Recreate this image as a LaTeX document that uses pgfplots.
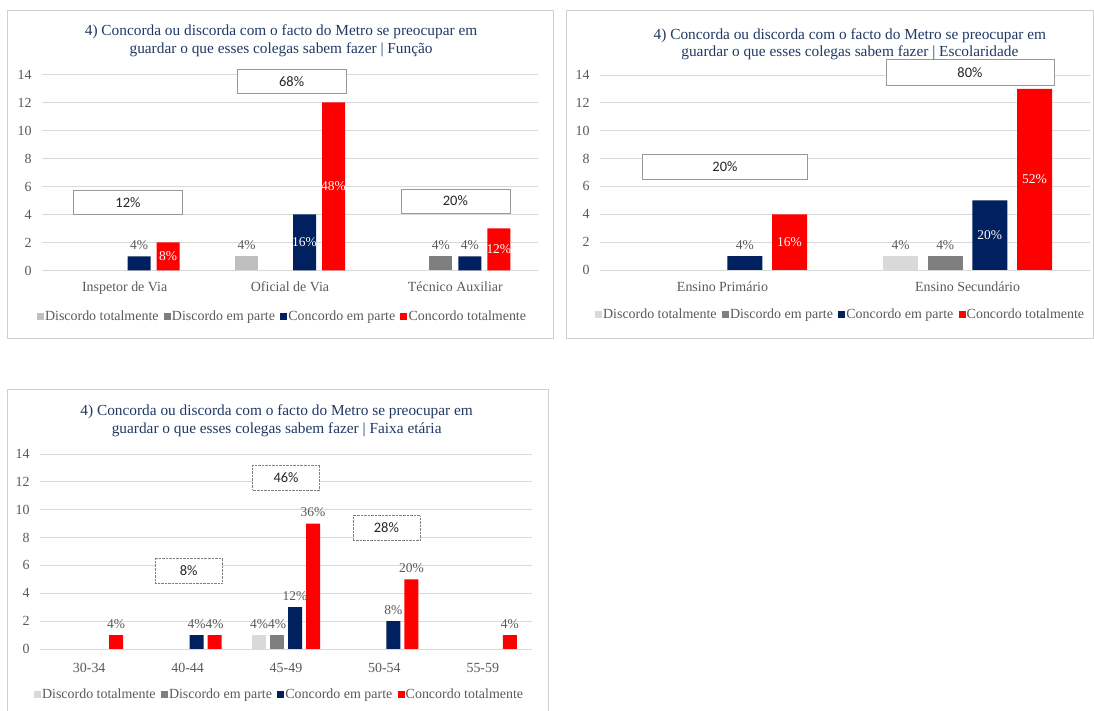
\documentclass[border=0pt]{standalone}
\usepackage{fontspec}
\setmainfont{Liberation Serif}
\newfontfamily\carlito{Carlito}
\usepackage{pgfplots}
\pgfplotsset{compat=1.18}
\definecolor{lgA}{HTML}{BFBFBF}
\definecolor{lgB}{HTML}{D9D9D9}
\definecolor{mgray}{HTML}{7F7F7F}
\definecolor{navy}{HTML}{002060}
\definecolor{xred}{HTML}{FF0000}
\definecolor{titleblue}{HTML}{1F3864}
\definecolor{tickgray}{HTML}{595959}
\definecolor{gridc}{HTML}{D9D9D9}
\definecolor{panelc}{HTML}{D0D0D0}
\definecolor{boxc}{HTML}{999999}
\definecolor{boxtext}{HTML}{262626}
\tikzset{pbox/.style={draw=boxc, fill=white, font=\carlito\fontsize{14.5}{16}\selectfont, text=boxtext, inner sep=0pt}}
\pgfplotsset{
  panel/.style={
    scale only axis, ybar, clip=false,
    ymin=0, ymax=14, ytick={0,2,...,14},
    axis line style={draw=none}, major tick length=0pt,
    ymajorgrids, grid style={draw=gridc, line width=0.8bp},
    tick label style={font=\fontsize{14}{16}\selectfont, text=tickgray},
    /pgf/number format/assume math mode=true,
    yticklabel style={xshift=-7bp},
    xticklabel style={yshift=-8bp},
    title style={font=\fontsize{15.4}{18}\selectfont, text=titleblue, align=center, anchor=center},
    legend columns=4,
    legend style={draw=none, fill=none, font=\fontsize{14}{15}\selectfont, anchor=center,
      nodes={text=tickgray, inner sep=1.2bp},
      /tikz/every even column/.append style={column sep=4bp}},
    legend image code/.code={\fill[##1] (0bp,-3.5bp) rectangle (7bp,3.5bp);},
  },
  lblabove/.style={forget plot, draw=none, fill=none, point meta=explicit symbolic, nodes near coords,
    every node near coord/.append style={font=\fontsize{13.5}{15}\selectfont, text=tickgray, anchor=south, yshift=3bp}},
  lblin/.style={forget plot, draw=none, fill=none, point meta=explicit symbolic, nodes near coords,
    visualization depends on={y \as \rawy},
    every node near coord/.append style={font=\fontsize{13.5}{15}\selectfont, text=white, anchor=center, shift={(axis direction cs:0,-\rawy/2)}}},
}
\begin{document}
\begin{tikzpicture}[x=1bp,y=1bp]
\useasboundingbox (0,0) rectangle (1094,711);
\draw[panelc, line width=0.8bp] (7.5,372.5) rectangle (553.5,700.5);
\draw[panelc, line width=0.8bp] (566.5,372.5) rectangle (1093,700.5);
\draw[panelc, line width=0.8bp] (7.5,-5) rectangle (548.5,321.5);

% ---------- Panel 1: Função ----------
\begin{axis}[panel, at={(42bp,440.5bp)}, anchor=south west, width=496bp, height=196bp,
  xmin=-0.5, xmax=2.5, xtick={0,1,2},
  xticklabels={Inspetor de Via, Oficial de Via, Técnico Auxiliar},
  title={4) Concorda ou discorda com o facto do Metro se preocupar em\\guardar o que esses colegas sabem fazer | Função},
  title style={at={(0.482,1.14)}},
  legend style={at={(0.484,-0.235)}},
  bar width=23bp]
\addplot[fill=lgA, draw=none, bar shift=-43.5bp] coordinates {(1,1)};
\addplot[fill=mgray, draw=none, bar shift=-14.5bp] coordinates {(2,1)};
\addplot[fill=navy, draw=none, bar shift=14.5bp] coordinates {(0,1) (1,4) (2,1)};
\addplot[fill=xred, draw=none, bar shift=43.5bp] coordinates {(0,2) (1,12) (2,3)};
\legend{Discordo totalmente, Discordo em parte, Concordo em parte, Concordo totalmente}
\addplot[lblabove, bar shift=-43.5bp] coordinates {(1,1) [4\%]};
\addplot[lblabove, bar shift=-14.5bp] coordinates {(2,1) [4\%]};
\addplot[lblabove, bar shift=14.5bp] coordinates {(0,1) [4\%] (2,1) [4\%]};
\addplot[lblin, bar shift=14.5bp] coordinates {(1,4) [16\%]};
\addplot[lblin, bar shift=43.5bp] coordinates {(0,2) [8\%] (1,12) [48\%] (2,3) [12\%]};
\node[pbox, minimum width=109bp, minimum height=24bp] at (axis cs:0.02,4.86) {12\%};
\node[pbox, minimum width=109bp, minimum height=24bp] at (axis cs:1.01,13.5) {68\%};
\node[pbox, minimum width=109bp, minimum height=24bp] at (axis cs:2.0,4.96) {20\%};
\end{axis}

% ---------- Panel 2: Escolaridade ----------
\begin{axis}[panel, at={(600bp,441bp)}, anchor=south west, width=490bp, height=195bp,
  xmin=-0.5, xmax=1.5, xtick={0,1},
  xticklabels={Ensino Primário, Ensino Secundário},
  title={4) Concorda ou discorda com o facto do Metro se preocupar em\\guardar o que esses colegas sabem fazer | Escolaridade},
  title style={at={(0.51,1.127)}},
  legend style={at={(0.49,-0.23)}},
  bar width=35bp]
\addplot[fill=lgB, draw=none, bar shift=-67bp] coordinates {(1,1)};
\addplot[fill=mgray, draw=none, bar shift=-22.3bp] coordinates {(1,1)};
\addplot[fill=navy, draw=none, bar shift=22.3bp] coordinates {(0,1) (1,5)};
\addplot[fill=xred, draw=none, bar shift=67bp] coordinates {(0,4) (1,13)};
\legend{Discordo totalmente, Discordo em parte, Concordo em parte, Concordo totalmente}
\addplot[lblabove, bar shift=-67bp] coordinates {(1,1) [4\%]};
\addplot[lblabove, bar shift=-22.3bp] coordinates {(1,1) [4\%]};
\addplot[lblabove, bar shift=22.3bp] coordinates {(0,1) [4\%]};
\addplot[lblin, bar shift=22.3bp] coordinates {(1,5) [20\%]};
\addplot[lblin, bar shift=67bp] coordinates {(0,4) [16\%] (1,13) [52\%]};
\node[pbox, minimum width=165bp, minimum height=25bp] at (axis cs:0.01,7.39) {20\%};
\node[pbox, minimum width=168bp, minimum height=26bp] at (axis cs:1.01,14.2) {80\%};
\end{axis}

% ---------- Panel 3: Faixa etária ----------
\begin{axis}[panel, at={(40bp,62bp)}, anchor=south west, width=492bp, height=195bp,
  xmin=-0.5, xmax=4.5, xtick={0,1,2,3,4},
  xticklabels={30-34, 40-44, 45-49, 50-54, 55-59},
  xticklabel style={yshift=-3bp},
  title={4) Concorda ou discorda com o facto do Metro se preocupar em\\guardar o que esses colegas sabem fazer | Faixa etária},
  title style={at={(0.481,1.139)}},
  legend style={at={(0.486,-0.232)}},
  bar width=14bp]
\addplot[fill=lgB, draw=none, bar shift=-27bp] coordinates {(2,1)};
\addplot[fill=mgray, draw=none, bar shift=-9bp] coordinates {(2,1)};
\addplot[fill=navy, draw=none, bar shift=9bp] coordinates {(1,1) (2,3) (3,2)};
\addplot[fill=xred, draw=none, bar shift=27bp] coordinates {(0,1) (1,1) (2,9) (3,5) (4,1)};
\legend{Discordo totalmente, Discordo em parte, Concordo em parte, Concordo totalmente}
\addplot[lblabove, bar shift=-27bp] coordinates {(2,1) [4\%]};
\addplot[lblabove, bar shift=-9bp] coordinates {(2,1) [4\%]};
\addplot[lblabove, bar shift=9bp] coordinates {(1,1) [4\%] (2,3) [12\%] (3,2) [8\%]};
\addplot[lblabove, bar shift=27bp] coordinates {(0,1) [4\%] (1,1) [4\%] (2,9) [36\%] (3,5) [20\%] (4,1) [4\%]};
\node[pbox, draw=mgray, densely dotted, minimum width=67bp, minimum height=25bp] at (axis cs:1.01,5.64) {8\%};
\node[pbox, draw=mgray, densely dotted, minimum width=67bp, minimum height=25bp] at (axis cs:2.0,12.31) {46\%};
\node[pbox, draw=mgray, densely dotted, minimum width=67bp, minimum height=25bp] at (axis cs:3.02,8.69) {28\%};
\end{axis}
\end{tikzpicture}
\end{document}
